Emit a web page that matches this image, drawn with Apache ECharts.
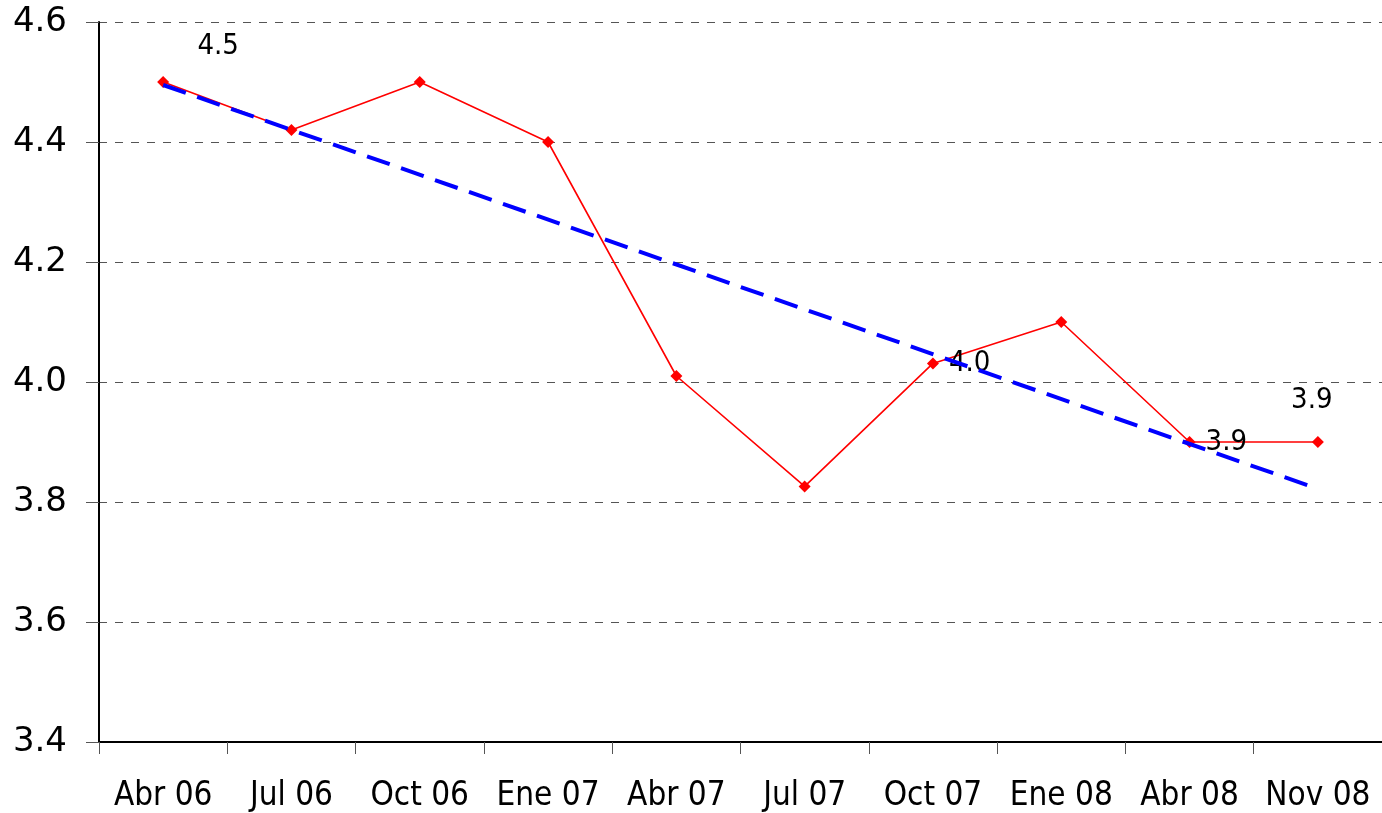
<!DOCTYPE html>
<html>
<head>
<meta charset="utf-8">
<script src="https://cdn.jsdelivr.net/npm/echarts@6/dist/echarts.min.js"></script>
<style>
  html, body { margin: 0; padding: 0; background: #fff; }
  #main { width: 1382px; height: 813px; }
</style>
</head>
<body>
<div id="main"></div>
<script>
var categories = ['Abr 06', 'Jul 06', 'Oct 06', 'Ene 07', 'Abr 07', 'Jul 07', 'Oct 07', 'Ene 08', 'Abr 08', 'Nov 08'];
var values = [4.5, 4.42, 4.5, 4.4, 4.01, 3.826, 4.031, 4.1, 3.9, 3.9];
// tendencia lineal: valor inicial y final
var trendValues = [4.495, 3.822];
// etiquetas visibles: indice -> posicion
var labelPos = { 0: 'topRight', 6: 'right', 8: 'right', 9: 'topUp' };

var fontName = 'DejaVu Sans Condensed, DejaVu Sans, sans-serif';

var seriesData = values.map(function (v, i) {
    var item = { value: v };
    var p = labelPos[i];
    if (p) {
        var lbl = { show: true, formatter: function (o) { return o.value.toFixed(1); } };
        if (p == 'topRight') {
            lbl.position = 'top';
            lbl.offset = [55, -10];
        } else if (p == 'right') {
            lbl.position = 'right';
            lbl.distance = 10;
        } else {
            lbl.position = 'top';
            lbl.offset = [-6, -16];
        }
        item.label = lbl;
    }
    return item;
});

var option = {
    backgroundColor: '#fff',
    animation: false,
    grid: { left: 99, right: 0, top: 22, bottom: 70 },
    xAxis: {
        type: 'category',
        data: categories,
        boundaryGap: true,
        axisLine: { lineStyle: { color: '#000', width: 2 } },
        axisTick: { show: true, length: 12, lineStyle: { color: '#555' } },
        axisLabel: { color: '#000', fontSize: 33, fontFamily: fontName, margin: 38, interval: 0 },
        splitLine: { show: false }
    },
    yAxis: {
        type: 'value',
        min: 3.4,
        max: 4.6,
        interval: 0.2,
        axisLine: { show: true, lineStyle: { color: '#000', width: 2 } },
        axisTick: { show: true, length: 13, lineStyle: { color: '#555' } },
        axisLabel: {
            color: '#000', fontSize: 34, fontFamily: 'DejaVu Sans, sans-serif', margin: 32,
            formatter: function (v) { return v.toFixed(1); }
        },
        splitLine: { show: true, lineStyle: { color: '#555', type: [8, 8], width: 1 } }
    },
    series: [
        {
            name: 'Valor',
            type: 'line',
            data: seriesData,
            symbol: 'diamond',
            symbolSize: 12,
            lineStyle: { color: '#ff0000', width: 1.6 },
            itemStyle: { color: '#ff0000' },
            label: { color: '#000', fontSize: 29, fontFamily: fontName },
            z: 3
        },
        {
            name: 'Tendencia',
            type: 'line',
            data: [[0, trendValues[0]], [categories.length - 1, trendValues[1]]],
            symbol: 'none',
            lineStyle: { color: '#0000ff', width: 4, type: [24, 12] },
            z: 4
        }
    ]
};

var myChart = echarts.init(document.getElementById('main'));
myChart.setOption(option);
</script>
</body>
</html>
